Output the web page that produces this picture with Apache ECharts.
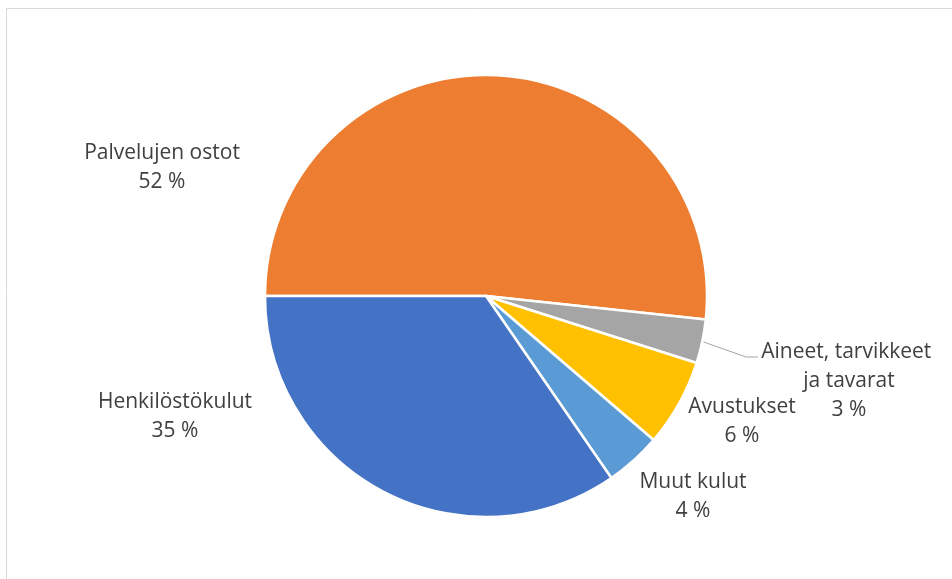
<!DOCTYPE html>
<html>
<head>
<meta charset="utf-8">
<script src="https://cdn.jsdelivr.net/npm/echarts@6/dist/echarts.min.js"></script>
<style>
html,body{margin:0;padding:0;background:#fff;}
#chart{width:952px;height:579px;}
</style>
</head>
<body>
<div id="chart"></div>
<script>
const categories = ["Palvelujen ostot", "Aineet, tarvikkeet ja tavarat", "Avustukset", "Muut kulut", "Henkilöstökulut"];
const values = [51.7, 3.2, 6.4, 4.1, 34.6];
const colors = ["#ED7D31", "#A5A5A5", "#FFC000", "#5B9BD5", "#4472C4"];

const LH = 29;
const labelSpots = [
  {x: 162, y: 168},
  {x: 849, y: 357},
  {x: 742, y: 422},
  {x: 693, y: 497},
  {x: 175, y: 417}
];

const fmt = p => p.name + '\n' + Math.round(p.percent) + ' %';

const chart = echarts.init(document.getElementById('chart'), null, {renderer: 'canvas'});
const data = categories.map((c, i) => ({
  name: c,
  value: values[i],
  itemStyle: {color: colors[i]},
  label: i === 1 ? {
    width: 182, overflow: 'break',
    formatter: p => '{pad| }\n' + fmt(p),
    rich: {pad: {fontSize: 10, lineHeight: 48, height: 48}}
  } : {},
  labelLine: {show: i === 1}
}));

chart.setOption({
  animation: false,
  backgroundColor: '#ffffff',
  graphic: [{
    type: 'rect',
    shape: {x: 6.5, y: 8.5, width: 1000, height: 1000},
    style: {fill: 'none', stroke: '#d9d9d9', lineWidth: 1},
    silent: true
  }],
  series: [{
    type: 'pie',
    center: [486, 296],
    radius: 221,
    startAngle: 180,
    clockwise: true,
    data: data,
    itemStyle: {borderColor: '#ffffff', borderWidth: 2.5},
    label: {
      show: true,
      position: 'outside',
      formatter: fmt,
      fontFamily: 'Open Sans',
      fontSize: 21,
      lineHeight: LH,
      color: '#404040',
      align: 'center'
    },
    labelLine: {
      lineStyle: {color: '#A6A6A6', width: 1},
      length: 10,
      length2: 12
    },
    labelLayout: function (params) {
      const s = labelSpots[params.dataIndex];
      return {x: s.x, y: s.y, align: 'center', verticalAlign: 'middle'};
    },
    emphasis: {disabled: true}
  }]
});
</script>
</body>
</html>
